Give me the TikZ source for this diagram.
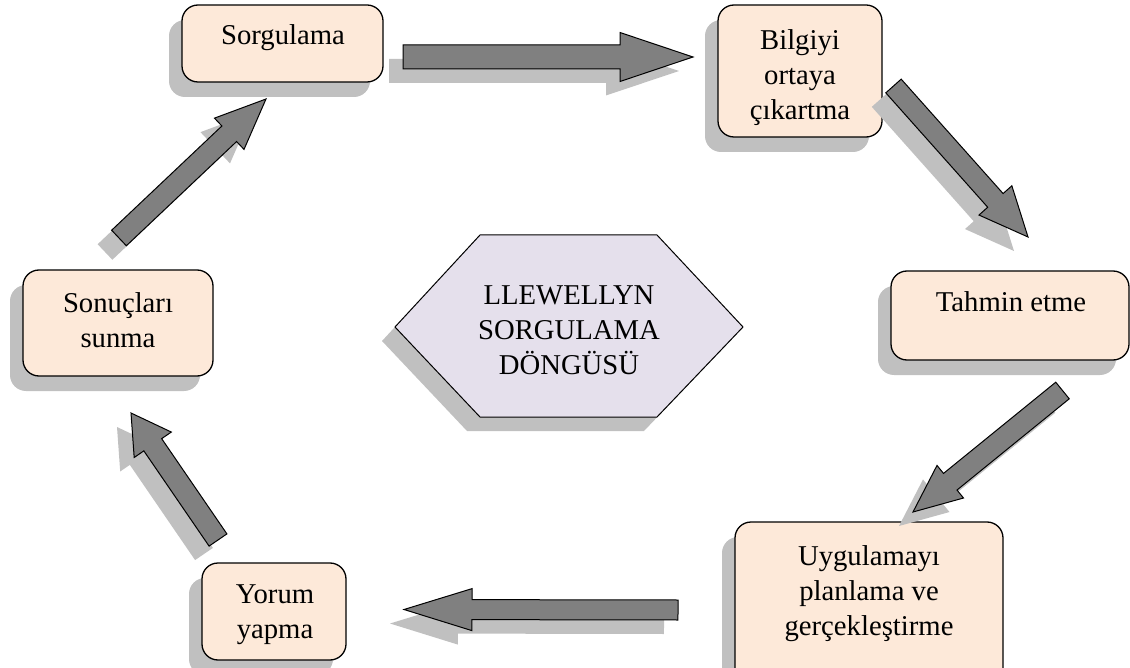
\documentclass[tikz,border=0pt]{standalone}
\usepackage{fontspec}
\setmainfont{Liberation Serif}
\usetikzlibrary{calc,shadows}

\definecolor{boxfill}{HTML}{FDE9D9}
\definecolor{hexfill}{HTML}{E5E0EC}
\definecolor{arrowfill}{HTML}{808080}
\definecolor{shade}{HTML}{C0C0C0}

% centred multi-line text whose baseline is the first line's
\newcommand\textlines[1]{\begin{tabular}[t]{@{}c@{}}#1\end{tabular}}

% block arrow: name, tail, tip, body half-width, head half-width, head length
\newcommand\blockarrow[6]{%
  \coordinate (#1-hb) at ($(#3)!#6pt!(#2)$);
  \draw[flowarrow]
    ($(#2)!#4pt!90:(#3)$) -- ($(#1-hb)!#4pt!90:(#3)$) --
    ($(#1-hb)!#5pt!90:(#3)$) -- (#3) --
    ($(#1-hb)!#5pt!-90:(#3)$) -- ($(#1-hb)!#4pt!-90:(#3)$) --
    ($(#2)!#4pt!-90:(#3)$) -- cycle;
}

\tikzset{
  stepbox/.style={draw=black, line width=1.3pt, fill=boxfill,
    rounded corners=16pt, inner sep=0pt,
    general shadow={fill=shade, shadow xshift=-13pt, shadow yshift=-15pt}},
  caption/.style={font=\fontsize{28.7}{35}\selectfont, inner sep=0pt,
    anchor=base, text=black},
  flowarrow/.style={draw=black, line width=1pt, fill=arrowfill,
    line join=miter,
    general shadow={fill=shade, shadow xshift=-14pt, shadow yshift=-14pt}},
  hexbox/.style={draw=black, line width=1pt, fill=hexfill, line join=miter,
    general shadow={fill=shade, shadow xshift=-13pt, shadow yshift=-14pt}},
}

\begin{document}
\begin{tikzpicture}[x=1pt, y=-1pt]
\useasboundingbox (0,0) rectangle (1130,668);
\clip (0,0) rectangle (1130,668);

% steps of the cycle
\node[stepbox, minimum width=201pt, minimum height=77pt]  (b1) at (282.5,43.5) {};
\node[stepbox, minimum width=164pt, minimum height=132pt] (b2) at (800,71) {};
\node[stepbox, minimum width=238pt, minimum height=89pt]  (b3) at (1010,315.5) {};
\node[stepbox, minimum width=268pt, minimum height=178pt] (b4) at (869,611) {};
\node[stepbox, minimum width=144pt, minimum height=97pt]  (b5) at (274,611.5) {};
\node[stepbox, minimum width=190pt, minimum height=106pt] (b6) at (118,323) {};

\node[caption] (t1) at (283,45)  {Sorgulama};
\node[caption] (t2) at (800,50)  {\textlines{Bilgiyi\\ortaya\\çıkartma}};
\node[caption] (t3) at (1011,312) {Tahmin etme};
\node[caption] (t4) at (869,565) {\textlines{Uygulamayı\\planlama ve\\gerçekleştirme}};
\node[caption] (t5) at (275,603) {\textlines{Yorum\\yapma}};
\node[caption] (t6) at (118,313) {\textlines{Sonuçları\\sunma}};

% central hexagon
\coordinate (h1) at (395,327);
\coordinate (h2) at (480,235);
\coordinate (h3) at (657,235);
\coordinate (h4) at (743,327);
\coordinate (h5) at (657,417);
\coordinate (h6) at (480,417);
\draw[hexbox] (h1) -- (h2) -- (h3) -- (h4) -- (h5) -- (h6) -- cycle;
\node[caption] (hub) at (569,305) {\textlines{LLEWELLYN\\SORGULAMA\\DÖNGÜSÜ}};

% arrows between the steps
\coordinate (a1s) at (403,57);     \coordinate (a1e) at (693,57);
\coordinate (a2s) at (893.5,86);   \coordinate (a2e) at (1028,237);
\coordinate (a3s) at (1062.5,390.5); \coordinate (a3e) at (913,512);
\coordinate (a4s) at (678,610);    \coordinate (a4e) at (404,609.5);
\coordinate (a5s) at (218,540);    \coordinate (a5e) at (131,413);
\coordinate (a6s) at (119,238);    \coordinate (a6e) at (266,99);

\blockarrow{a1}{a1s}{a1e}{12}{24.5}{73}
\blockarrow{a2}{a2s}{a2e}{10.3}{22}{49}
\blockarrow{a3}{a3s}{a3e}{10.7}{21}{48}
\blockarrow{a4}{a4s}{a4e}{10}{21}{68}
\blockarrow{a5}{a5s}{a5e}{10.8}{22.5}{38.5}
\blockarrow{a6}{a6s}{a6e}{10.7}{21.5}{50.6}
\end{tikzpicture}
\end{document}
